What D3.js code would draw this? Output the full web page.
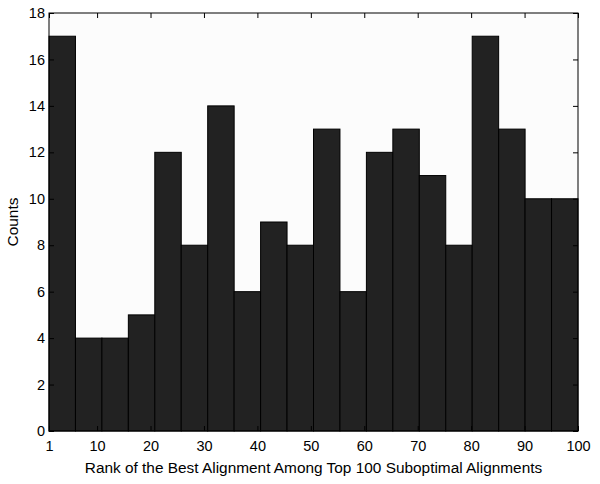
<!DOCTYPE html>
<html><head><meta charset="utf-8">
<script src="https://cdn.jsdelivr.net/npm/d3@7"></script>
<style>body{margin:0;background:#fff}svg{display:block}</style>
</head><body>
<svg id="chart" width="600" height="484"></svg>
<script>
const counts = [17,4,4,5,12,8,14,6,9,8,13,6,12,13,11,8,17,13,10,10];
const binStart = 1, binEnd = 100;
const xTicks = [1,10,20,30,40,50,60,70,80,90,100];
const yTicks = [0,2,4,6,8,10,12,14,16,18];
const xLabel = "Rank of the Best Alignment Among Top 100 Suboptimal Alignments";
const yLabel = "Counts";

const svg = d3.select("#chart");
const L = 49, R = 578, T = 13, B = 431;
const x = d3.scaleLinear().domain([binStart, binEnd]).range([L, R]);
const y = d3.scaleLinear().domain([0, 18]).range([B, T]);
const bw = (binEnd - binStart) / counts.length;
const font = "Liberation Sans, Arial, Helvetica, sans-serif";

svg.append("rect").attr("x", L).attr("y", T).attr("width", R - L).attr("height", B - T).attr("fill", "#fcfcfc");

svg.selectAll("rect.bar").data(counts).enter().append("rect")
  .attr("class", "bar")
  .attr("x", (d, i) => x(binStart + i * bw))
  .attr("width", (d, i) => x(binStart + (i + 1) * bw) - x(binStart + i * bw))
  .attr("y", d => y(d))
  .attr("height", d => y(0) - y(d))
  .attr("fill", "#222222").attr("stroke", "#000").attr("stroke-width", 1);

const tl = 5;
const gx = svg.append("g").attr("transform", `translate(0,${B})`).call(d3.axisBottom(x).tickValues(xTicks).tickSizeInner(-tl).tickSizeOuter(0).tickPadding(10));
const gxt = svg.append("g").attr("transform", `translate(0,${T})`).call(d3.axisTop(x).tickValues(xTicks).tickSizeInner(-tl).tickSizeOuter(0).tickFormat(""));
const gy = svg.append("g").attr("transform", `translate(${L},0)`).call(d3.axisLeft(y).tickValues(yTicks).tickSizeInner(-tl).tickSizeOuter(0).tickPadding(4));
const gyr = svg.append("g").attr("transform", `translate(${R},0)`).call(d3.axisRight(y).tickValues(yTicks).tickSizeInner(-tl).tickSizeOuter(0).tickFormat(""));
[gx, gxt, gy, gyr].forEach(g => {
  g.selectAll(".domain").remove();
  g.selectAll("line").attr("stroke", "#000");
  g.selectAll("text").attr("font-family", font).attr("font-size", 14.5).attr("fill", "#000");
});
gy.selectAll("text").attr("x", -4);

svg.append("rect").attr("x", L).attr("y", T).attr("width", R - L).attr("height", B - T)
  .attr("fill", "none").attr("stroke", "#000").attr("stroke-width", 1);

svg.append("text").attr("x", (L + R) / 2).attr("y", 473).attr("text-anchor", "middle")
  .attr("font-family", font).attr("font-size", 15.4).text(xLabel);
svg.append("text").attr("transform", `translate(18,${(T + B) / 2}) rotate(-90)`).attr("text-anchor", "middle")
  .attr("font-family", font).attr("font-size", 15.4).text(yLabel);
</script>
</body></html>
